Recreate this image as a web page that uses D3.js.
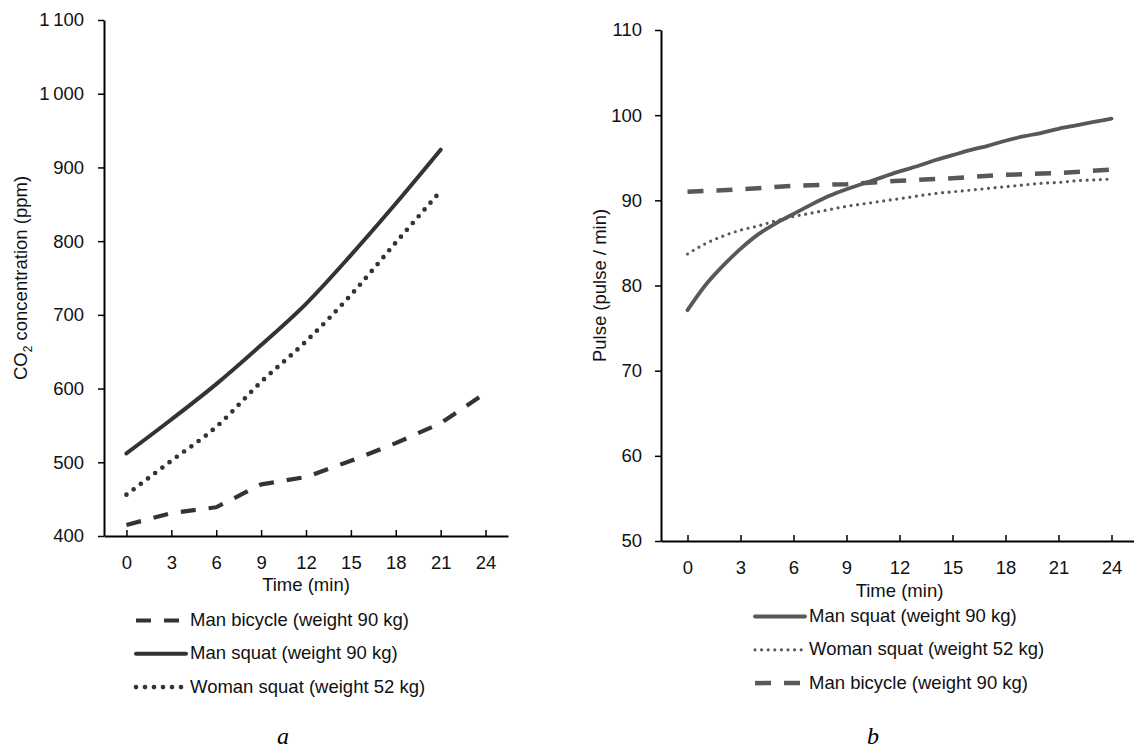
<!DOCTYPE html>
<html>
<head>
<meta charset="utf-8">
<script src="https://cdn.jsdelivr.net/npm/d3@7"></script>
<style>
  body { margin: 0; background: #fff; }
  svg { display: block; font-family: "Liberation Sans", Arial, sans-serif; }
  .axis path, .axis line { stroke: #000; }
  .axis path { stroke-width: 2; }
  .axis line { stroke-width: 1.5; }
  .axis text { font-size: 18.5px; fill: #111; }
  .lbl { font-size: 18.5px; fill: #111; }
</style>
</head>
<body>
<svg id="chart" width="1134" height="749"></svg>
<script>
// ---- data (a): CO2, read every 3 min ----
const co2Minutes = [0, 3, 6, 9, 12, 15, 18, 21, 24];
const co2ManBicycle = [415, 431, 439, 470, 480, 502, 526, 553, 594];
const co2ManSquat = [512, 558, 606, 659, 715, 781, 851, 924];
const co2WomanSquat = [456, 502, 548, 609, 664, 727, 798, 868];
const co2Ticks = [400, 500, 600, 700, 800, 900, 1000, 1100];

// ---- data (b): pulse ----
const pulseMinutesFine = d3.range(0, 25); // 0..24 every minute
const pulseManSquat = [77.1, 80.0, 82.3, 84.3, 86.0, 87.3, 88.4, 89.5, 90.5, 91.3, 92.0, 92.7, 93.4,
  94.0, 94.7, 95.3, 95.9, 96.4, 97.0, 97.5, 97.9, 98.4, 98.8, 99.2, 99.6];
const pulseWomanSquat = [83.7, 84.9, 85.8, 86.5, 87.0, 87.6, 88.1, 88.5, 88.9, 89.3, 89.6, 89.9, 90.2,
  90.5, 90.8, 91.0, 91.2, 91.4, 91.6, 91.8, 92.0, 92.1, 92.3, 92.4, 92.5];
const pulseMinutes = [0, 3, 6, 9, 12, 15, 18, 21, 24];
const pulseManBicycle = [91.0, 91.3, 91.7, 91.9, 92.3, 92.6, 93.0, 93.2, 93.6];
const pulseTicks = [50, 60, 70, 80, 90, 100, 110];

const timeTicks = [0, 3, 6, 9, 12, 15, 18, 21, 24];

const svg = d3.select("#chart");

const styles = {
  solidA:  { color: "#333",    width: 4,   dash: null,    cap: "round" },
  dotA:    { color: "#333",    width: 4.7, dash: "0 9",   cap: "round" },
  dashA:   { color: "#333",    width: 4.2, dash: "15 13", cap: "butt" },
  solidB:  { color: "#585858", width: 3.8, dash: null,    cap: "round" },
  dotB:    { color: "#585858", width: 3.2, dash: "0 6.6", cap: "round" },
  dashB:   { color: "#585858", width: 4.5, dash: "16 13", cap: "butt" }
};

function styled(sel, s) {
  return sel.attr("fill", "none")
    .attr("stroke", s.color)
    .attr("stroke-width", s.width)
    .attr("stroke-dasharray", s.dash)
    .attr("stroke-linecap", s.cap)
    .attr("stroke-linejoin", "round");
}

function panel(o) {
  const x = d3.scaleLinear().domain([-1.5, 25.5]).range([o.left, o.right]);
  const y = d3.scaleLinear().domain(o.yDomain).range([o.bottom, o.top]);

  svg.append("g").attr("class", "axis")
    .attr("transform", "translate(0," + o.bottom + ")")
    .call(d3.axisBottom(x).tickValues(timeTicks).tickSizeInner(-6).tickSizeOuter(0).tickPadding(20));

  svg.append("g").attr("class", "axis")
    .attr("transform", "translate(" + o.left + ",0)")
    .call(d3.axisLeft(y).tickValues(o.yTicks).tickSizeInner(6).tickSizeOuter(0)
      .tickPadding(o.yPad).tickFormat(o.yFormat));

  o.series.forEach(s => {
    const line = d3.line()
      .x((d, i) => x(s.xs[i]))
      .y(d => y(d))
      .curve(s.curve || d3.curveLinear);
    styled(svg.append("path").datum(s.values).attr("d", line), s.style);
  });

  svg.append("text").attr("class", "lbl")
    .attr("x", (o.left + o.right) / 2).attr("y", o.xTitleY)
    .attr("text-anchor", "middle").text("Time (min)");

  const yt = svg.append("text").attr("class", "lbl")
    .attr("transform", "translate(" + o.yTitleX + "," + ((o.top + o.bottom) / 2) + ") rotate(-90)")
    .attr("text-anchor", "middle");
  o.yTitle(yt);

  o.legend.forEach((l, i) => {
    const by = o.legendY + i * 33.3;
    styled(svg.append("line")
      .attr("x1", o.legendX).attr("x2", o.legendX + o.legendW)
      .attr("y1", by - 5.5).attr("y2", by - 5.5), l.style);
    svg.append("text").attr("class", "lbl")
      .attr("x", o.legendX + o.legendW + 4).attr("y", by)
      .text(l.label);
  });

  svg.append("text")
    .attr("x", o.capX).attr("y", 744)
    .attr("text-anchor", "middle")
    .style("font-family", "'Liberation Serif', 'Times New Roman', serif")
    .style("font-style", "italic")
    .style("font-size", "24px")
    .text(o.caption);
}

const thin = d => d >= 1000 ? String(d).replace(/^(\d)(\d{3})$/, "$1\u2009$2") : String(d);

panel({
  left: 104, right: 508, top: 20, bottom: 536,
  yDomain: [400, 1100], yTicks: co2Ticks, yFormat: thin, yPad: 14,
  xTitleY: 591, yTitleX: 27,
  yTitle: t => {
    t.append("tspan").text("CO");
    t.append("tspan").attr("font-size", "12px").attr("dy", 5).text("2");
    t.append("tspan").attr("dy", -5).text(" concentration (ppm)");
  },
  series: [
    { xs: co2Minutes, values: co2ManBicycle, style: styles.dashA },
    { xs: co2Minutes, values: co2ManSquat, style: styles.solidA, curve: d3.curveMonotoneX },
    { xs: co2Minutes, values: co2WomanSquat, style: styles.dotA, curve: d3.curveMonotoneX }
  ],
  legendX: 136, legendW: 50, legendY: 626,
  legend: [
    { label: "Man bicycle (weight 90 kg)", style: styles.dashA },
    { label: "Man squat (weight 90 kg)", style: styles.solidA },
    { label: "Woman squat (weight 52 kg)", style: styles.dotA }
  ],
  capX: 283, caption: "a"
});

panel({
  left: 661, right: 1138, top: 30, bottom: 541,
  yDomain: [50, 110], yTicks: pulseTicks, yFormat: d => String(d), yPad: 13,
  xTitleY: 597, yTitleX: 606,
  yTitle: t => t.text("Pulse (pulse / min)"),
  series: [
    { xs: pulseMinutesFine, values: pulseManSquat, style: styles.solidB, curve: d3.curveMonotoneX },
    { xs: pulseMinutesFine, values: pulseWomanSquat, style: styles.dotB, curve: d3.curveMonotoneX },
    { xs: pulseMinutes, values: pulseManBicycle, style: styles.dashB }
  ],
  legendX: 755, legendW: 50, legendY: 622,
  legend: [
    { label: "Man squat (weight 90 kg)", style: styles.solidB },
    { label: "Woman  squat (weight 52 kg)", style: styles.dotB },
    { label: "Man bicycle (weight 90 kg)", style: styles.dashB }
  ],
  capX: 873, caption: "b"
});
</script>
</body>
</html>
